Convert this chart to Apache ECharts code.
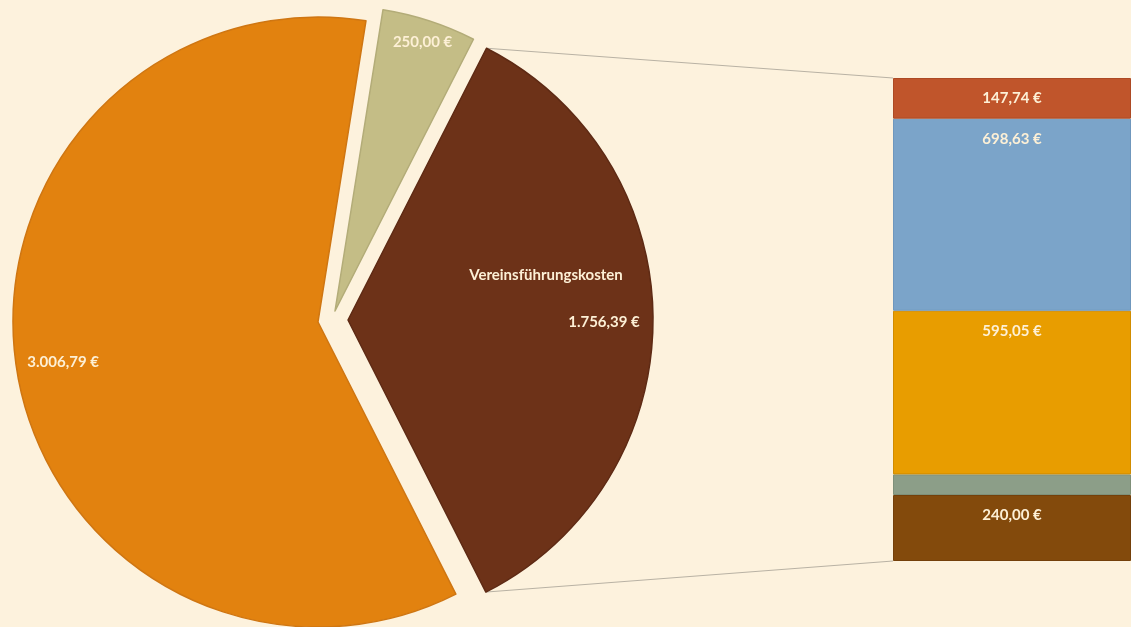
<!DOCTYPE html>
<html><head><meta charset="utf-8">
<script src="https://cdn.jsdelivr.net/npm/echarts@6/dist/echarts.min.js"></script>
<style>html,body{margin:0;padding:0;background:#fdf2dd}#c{width:1131px;height:627px}</style>
</head><body><div id="c"></div>
<script>
// ---- data ----
const pieNames = ['Vereinsführungskosten', 'Übrige Kosten', 'Sonstiges'];
const pieValues = [1756.39, 3006.79, 250.00];
const pieColors = ['#6d3218', '#e2820f', '#c4bd86'];
const pieBorders = ['#5e2a14', '#cf7612', '#b3ac78'];

const barNames = ['Posten 5', 'Posten 4', 'Posten 3', 'Posten 2', 'Posten 1'];
const barValues = [240.00, 74.97, 595.05, 698.63, 147.74];   // bottom -> top
const barColors = ['#834a0c', '#8c9e88', '#e89d00', '#7ba4c9', '#c0552b'];
const barBorders = ['#74400a', '#7f9079', '#d18c00', '#6f97bd', '#ad4a24'];
const barShowLabel = [true, false, true, true, true];

// ---- layout ----
const R = 305;
const START = 63;
const pieCenters = [[348, 320], [318, 322], [335, 311]];
const labelInner = [85, 205, 255];

function fmt(v) {
  const s = v.toFixed(2).split('.');
  const int = s[0].replace(/\B(?=(\d{3})+(?!\d))/g, '.');
  return int + ',' + s[1] + ' €';
}

const TXT = '#fdf0d6';
const FONT = 'Lato, "Open Sans", sans-serif';
const FS = 15;
const series = [];

pieValues.forEach((_, i) => {
  series.push({
    type: 'pie', silent: true, center: pieCenters[i], radius: R,
    startAngle: START, clockwise: true, avoidLabelOverlap: false,
    label: { show: false }, labelLine: { show: false },
    data: pieValues.map((v, j) => ({
      value: v, name: pieNames[j],
      itemStyle: {
        color: j === i ? pieColors[i] : 'rgba(0,0,0,0)',
        borderColor: j === i ? pieBorders[i] : 'rgba(0,0,0,0)',
        borderWidth: j === i ? 1.5 : 0
      }
    }))
  });
});

pieValues.forEach((_, i) => {
  const s = {
    type: 'pie', silent: true, center: pieCenters[i], radius: [labelInner[i], R],
    startAngle: START, clockwise: true, avoidLabelOverlap: false, z: 5,
    labelLine: { show: false },
    label: {
      position: 'inside', color: TXT, fontFamily: FONT, fontWeight: 'bold', fontSize: FS,
      formatter: p => fmt(p.value)
    },
    data: pieValues.map((v, j) => ({
      value: v, name: pieNames[j],
      itemStyle: { color: 'rgba(0,0,0,0)' },
      label: { show: j === i }
    }))
  };
  if (i === 0) {
    s.label.formatter = p => '{n|' + p.name + '}\n{v|' + fmt(p.value) + '}';
    s.label.rich = {
      n: { color: TXT, fontFamily: FONT, fontWeight: 'bold', fontSize: FS, lineHeight: 47 },
      v: { color: TXT, fontFamily: FONT, fontWeight: 'bold', fontSize: FS, lineHeight: 47, padding: [0, 0, 0, 116] }
    };
    s.labelLayout = { dy: -11 };
  }
  series.push(s);
});

barValues.forEach((v, i) => {
  series.push({
    type: 'bar', stack: 'x', barWidth: '100%', name: barNames[i], silent: true,
    xAxisIndex: 0, yAxisIndex: 0,
    itemStyle: { color: barColors[i], borderColor: barBorders[i], borderWidth: 1 },
    label: {
      show: barShowLabel[i], position: 'insideTop', distance: 13,
      color: TXT, fontFamily: FONT, fontWeight: 'bold', fontSize: FS,
      formatter: p => fmt(p.value)
    },
    data: [v]
  });
});

const barTotal = barValues.reduce((a, b) => a + b, 0);

const chart = echarts.init(document.getElementById('c'));
chart.setOption({
  backgroundColor: '#fdf2dd',
  animation: false,
  grid: { left: 893, right: 0, top: 78, bottom: 66 },
  xAxis: { type: 'category', data: ['Vereinsführungskosten'], show: false },
  yAxis: { type: 'value', min: 0, max: barTotal, show: false },
  series: series
});

// connector lines from the exploded slice to the bar
const total = pieValues.reduce((a, b) => a + b, 0);
const a0 = START * Math.PI / 180;
const a1 = (START - 360 * pieValues[0] / total) * Math.PI / 180;
const bc = pieCenters[0];
const p0 = [bc[0] + R * Math.cos(a0), bc[1] - R * Math.sin(a0)];
const p1 = [bc[0] + R * Math.cos(a1), bc[1] - R * Math.sin(a1)];
const topPx = chart.convertToPixel({ gridIndex: 0 }, [0, barTotal]);
const botPx = chart.convertToPixel({ gridIndex: 0 }, [0, 0]);
let leftX = 893;
try {
  const rect = chart.getModel().getComponent('grid', 0).coordinateSystem.getRect();
  leftX = rect.x;
} catch (e) {}
chart.setOption({
  graphic: [
    { type: 'line', silent: true, z: 0, shape: { x1: p0[0], y1: p0[1], x2: leftX, y2: topPx[1] }, style: { stroke: '#b9b2a4', lineWidth: 1 } },
    { type: 'line', silent: true, z: 0, shape: { x1: p1[0], y1: p1[1], x2: leftX, y2: botPx[1] }, style: { stroke: '#b9b2a4', lineWidth: 1 } }
  ]
});
</script>
</body></html>
